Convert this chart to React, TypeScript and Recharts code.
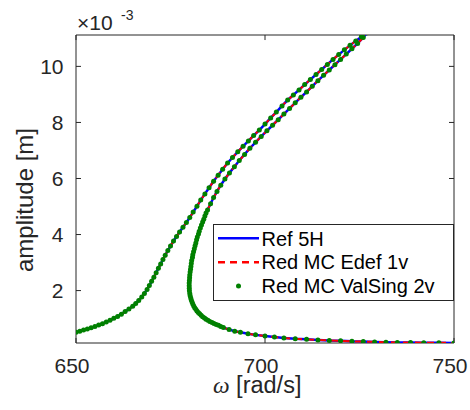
import { Label, Line, LineChart, ReferenceArea, ReferenceLine, XAxis, YAxis } from "recharts"

// amplitude is in units of 1e-3 m (the axis shows the ×10^-3 factor)
const upperBranch: [number, number][] = [
  [650.0, 0.51], [651.0, 0.55], [652.0, 0.59], [653.0, 0.63], [654.0, 0.67],
  [655.0, 0.72], [656.0, 0.77], [657.0, 0.82], [658.0, 0.88], [659.0, 0.94],
  [660.0, 1.01], [661.0, 1.08], [662.0, 1.16], [663.0, 1.25], [664.0, 1.34],
  [665.0, 1.44], [665.8, 1.54], [666.6, 1.65], [667.4, 1.77], [668.1, 1.9],
  [668.8, 2.04], [669.4, 2.18], [670.0, 2.33], [670.6, 2.48], [671.2, 2.64],
  [671.8, 2.8], [672.4, 2.95], [673.0, 3.11], [673.6, 3.26], [674.3, 3.43],
  [675.0, 3.59], [675.8, 3.77], [676.6, 3.93], [677.4, 4.09], [678.3, 4.26],
  [679.2, 4.43], [680.1, 4.61], [681.0, 4.8], [682.0, 5.01], [683.0, 5.23],
  [684.1, 5.45], [685.2, 5.67], [686.4, 5.9], [687.6, 6.12], [688.8, 6.33],
  [690.1, 6.55], [691.4, 6.75], [692.8, 6.95], [694.2, 7.15], [695.6, 7.34],
  [697.0, 7.53], [698.5, 7.73], [700.0, 7.94], [701.5, 8.16], [703.0, 8.37],
  [704.5, 8.59], [706.0, 8.8], [707.5, 8.98], [709.0, 9.16], [710.5, 9.35],
  [712.0, 9.53], [713.5, 9.71], [715.0, 9.89], [716.5, 10.07], [718.0, 10.25],
  [719.5, 10.42], [721.0, 10.59], [722.5, 10.75], [724.0, 10.91], [725.5, 11.06],
  [727.0, 11.2],
]

const unstableBranch: [number, number][] = [
  [726.0, 11.03], [724.5, 10.82], [723.0, 10.63], [721.5, 10.44], [720.0, 10.25],
  [718.5, 10.06], [717.0, 9.87], [715.5, 9.68], [714.0, 9.49], [712.5, 9.29],
  [711.0, 9.09], [709.5, 8.9], [708.0, 8.7], [706.5, 8.5], [705.0, 8.3],
  [703.5, 8.1], [702.0, 7.9], [700.5, 7.7], [699.0, 7.5], [697.5, 7.29],
  [696.0, 7.08], [694.6, 6.86], [693.2, 6.64], [691.9, 6.42], [690.6, 6.2],
  [689.4, 5.98], [688.3, 5.76], [687.3, 5.54], [686.4, 5.32], [685.6, 5.1],
  [684.8, 4.88], [684.4, 4.77], [684.1, 4.66], [683.8, 4.55], [683.5, 4.45],
  [683.2, 4.34], [682.9, 4.23], [682.6, 4.12], [682.4, 4.02], [682.1, 3.91],
  [681.9, 3.81], [681.7, 3.7], [681.5, 3.6], [681.3, 3.49], [681.1, 3.39],
  [680.9, 3.28], [680.8, 3.18], [680.6, 3.07], [680.5, 2.97], [680.4, 2.86],
  [680.3, 2.76], [680.2, 2.66], [680.1, 2.56], [680.05, 2.46], [680.0, 2.36],
  [679.95, 2.27], [679.95, 2.17], [679.97, 2.08], [680.0, 1.99], [680.1, 1.9],
  [680.2, 1.82], [680.35, 1.74], [680.5, 1.66], [680.7, 1.59], [680.9, 1.52],
  [681.15, 1.45], [681.4, 1.39], [681.7, 1.33], [682.0, 1.27], [682.35, 1.22],
  [682.7, 1.17], [683.1, 1.12], [683.5, 1.07], [684.0, 1.02], [684.4, 0.98],
  [684.9, 0.94], [685.4, 0.9], [686.0, 0.86], [686.5, 0.83], [687.1, 0.79],
  [687.7, 0.76], [688.3, 0.72], [689.0, 0.68], [690.5, 0.61], [692.0, 0.55],
]

const lowerBranch: [number, number][] = [
  [693.5, 0.51], [695.5, 0.46], [697.5, 0.42], [700.0, 0.38], [702.5, 0.34],
  [705.0, 0.31], [708.0, 0.28], [711.0, 0.26], [714.0, 0.24], [717.0, 0.22],
  [720.0, 0.21], [723.0, 0.19], [726.0, 0.18], [729.0, 0.17], [732.0, 0.16],
  [735.0, 0.15], [738.5, 0.15], [742.0, 0.14], [746.0, 0.14], [750.0, 0.13],
]

const X_TICKS = [650, 700, 750]
const Y_TICKS = [2, 4, 6, 8, 10]
const X_MIN = 650
const X_MAX = 750
const Y_MIN = 0.13
const Y_MAX = 11.12
// inward tick length (~5px) expressed in axis units
const TICK_DX = 1.32
const TICK_DY = 0.18

const SERIES = [
  { name: "Ref 5H", color: "#0000ff", kind: "solid" },
  { name: "Red MC Edef 1v", color: "#ff0000", kind: "dashed" },
  { name: "Red MC ValSing 2v", color: "#008000", kind: "dots" },
]

const curve = [...upperBranch, ...unstableBranch, ...lowerBranch].map(([w, a]) => ({ w, a }))

const AXIS = "#262626"
const FONT = "'Liberation Sans', Arial, Helvetica, sans-serif"

const XTick = ({ x, y, payload }: any) => (
  <text x={x - 4} y={y} dy="0.71em" textAnchor="middle" fill={AXIS} fontFamily={FONT} fontSize={21}>
    {payload.value}
  </text>
)

const XTitle = () => (
  <text x={213} y={393} fill={AXIS} fontFamily={FONT} fontSize={23.5}>
    <tspan fontFamily="'Liberation Serif', serif" fontStyle="italic">ω</tspan>
    <tspan> [rad/s]</tspan>
  </text>
)

const YTitle = () => (
  <text
    x={24}
    y={200}
    fill={AXIS}
    fontFamily={FONT}
    fontSize={24}
    textAnchor="middle"
    dominantBaseline="central"
    transform="rotate(-90, 24, 200)"
  >
    amplitude [m]
  </text>
)

const Exponent = () => (
  <text x={77} y={30} fill={AXIS} fontFamily={FONT} fontSize={21}>
    ×10
    <tspan x={121} y={20} fontSize={14}>-3</tspan>
  </text>
)

const LegendBox = () => (
  <svg width={241} height={77} style={{ display: "block" }}>
    <rect x={0.5} y={0.5} width={240} height={76} fill="#fff" stroke={AXIS} />
    {SERIES.map((s, i) => {
      const cy = 14.3 + i * 23.9
      return (
        <g key={s.name}>
          {s.kind === "dots" ? (
            <circle cx={25.5} cy={cy} r={2.5} fill={s.color} />
          ) : (
            <line
              x1={5}
              x2={46}
              y1={cy}
              y2={cy}
              stroke={s.color}
              strokeWidth={2.5}
              strokeDasharray={s.kind === "dashed" ? "7 5" : undefined}
            />
          )}
          <text x={48.5} y={cy + 7.2} fontFamily={FONT} fontSize={20} fill="#000">
            {s.name}
          </text>
        </g>
      )
    })}
  </svg>
)

const tickSegments = [
  ...X_TICKS.flatMap((x) => [
    [{ x, y: Y_MIN }, { x, y: Y_MIN + TICK_DY }],
    [{ x, y: Y_MAX }, { x, y: Y_MAX - TICK_DY }],
  ]),
  ...Y_TICKS.flatMap((y) => [
    [{ x: X_MIN, y }, { x: X_MIN + TICK_DX, y }],
    [{ x: X_MAX, y }, { x: X_MAX - TICK_DX, y }],
  ]),
]

export default function App() {
  return (
    <div style={{ position: "absolute", left: 0, top: 0, width: 470, height: 410, background: "#fff" }}>
      <LineChart width={470} height={410} margin={{ top: 35, right: 16, bottom: 0, left: 0 }}>
        <XAxis
          type="number"
          dataKey="w"
          domain={[X_MIN, X_MAX]}
          ticks={X_TICKS}
          allowDataOverflow
          height={67}
          axisLine={false}
          tickLine={false}
          tickSize={0}
          tickMargin={15}
          tick={XTick}
        >
          <Label content={XTitle} />
        </XAxis>
        <YAxis
          type="number"
          dataKey="a"
          domain={[Y_MIN, Y_MAX]}
          ticks={Y_TICKS}
          allowDataOverflow
          width={76}
          axisLine={false}
          tickLine={false}
          tickSize={0}
          tickMargin={12.5}
          tick={{ fill: AXIS, fontSize: 21, fontFamily: FONT }}
        >
          <Label content={YTitle} />
          <Label content={Exponent} />
        </YAxis>
        <ReferenceArea x1={X_MIN} x2={X_MAX} y1={Y_MIN} y2={Y_MAX} fill="none" stroke={AXIS} strokeWidth={1} />
        {tickSegments.map((seg, i) => (
          <ReferenceLine key={i} segment={seg} stroke={AXIS} strokeWidth={1} />
        ))}
        <Line
          data={curve}
          dataKey="a"
          name="Ref 5H"
          stroke="#0000ff"
          strokeWidth={2.5}
          dot={false}
          activeDot={false}
          isAnimationActive={false}
        />
        <Line
          data={curve}
          dataKey="a"
          name="Red MC Edef 1v"
          stroke="#ff0000"
          strokeWidth={2}
          strokeDasharray="7 5"
          dot={false}
          activeDot={false}
          isAnimationActive={false}
        />
        <Line
          data={curve}
          dataKey="a"
          name="Red MC ValSing 2v"
          stroke="none"
          dot={{ r: 2.5, fill: "#008000", stroke: "none" }}
          activeDot={false}
          isAnimationActive={false}
        />
      </LineChart>
      <div style={{ position: "absolute", left: 213, top: 224 }}>
        <LegendBox />
      </div>
    </div>
  )
}
